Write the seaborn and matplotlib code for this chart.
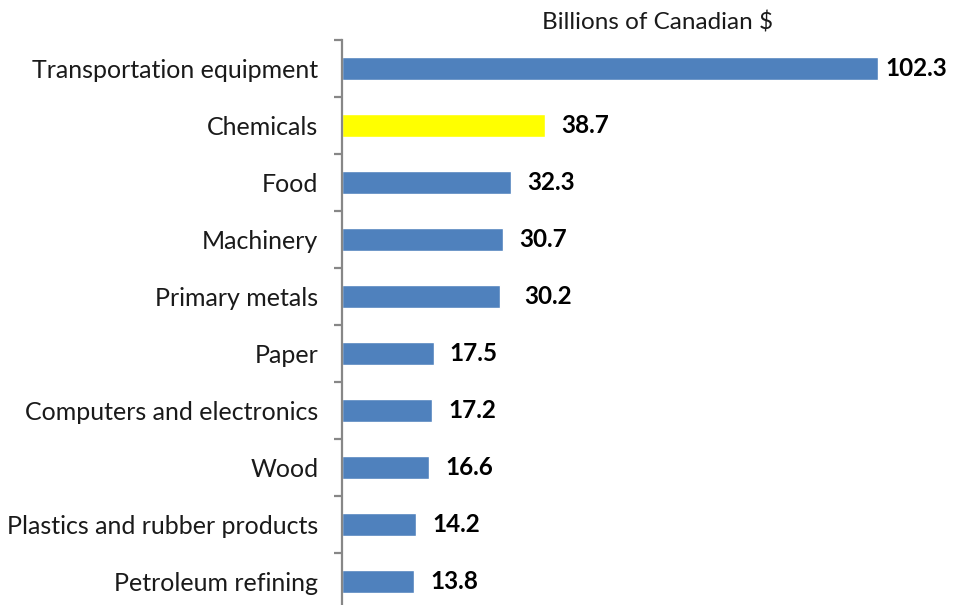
import matplotlib
matplotlib.use("Agg")
import matplotlib.pyplot as plt
import seaborn as sns
import pandas as pd
import numpy as np

categories = [
    "Transportation equipment",
    "Chemicals",
    "Food",
    "Machinery",
    "Primary metals",
    "Paper",
    "Computers and electronics",
    "Wood",
    "Plastics and rubber products",
    "Petroleum refining",
]
values = [102.3, 38.7, 32.3, 30.7, 30.2, 17.5, 17.2, 16.6, 14.2, 13.8]
highlight = "Chemicals"
unit_label = "Billions of Canadian $"

sns.set_style("white")
plt.rcParams["font.family"] = ["Lato", "DejaVu Sans"]

df = pd.DataFrame({"category": categories, "value": values})
colors = {c: ("#FFFF00" if c == highlight else "#4F81BD") for c in categories}

fig = plt.figure(figsize=(9.58, 6.05), dpi=100)
ax = fig.add_axes([342 / 958, -5 / 605, 613 / 958, 1 - 40 / 605 + 5 / 605])

sns.barplot(data=df, y="category", x="value", hue="category", palette=colors,
            order=categories, orient="h", width=0.4, legend=False, ax=ax,
            saturation=1)

ax.set_xlim(0, 117)
ax.set_ylim(len(categories) - 0.5, -0.5)
ax.set_xlabel("")
ax.set_ylabel("")
ax.set_xticks([])

for s in ["top", "right", "bottom"]:
    ax.spines[s].set_visible(False)
ax.spines["left"].set_color("#878787")
ax.spines["left"].set_linewidth(1.6)

ax.tick_params(axis="y", which="major", left=False, length=0, pad=17,
               labelsize=18, labelcolor="#1a1a1a")
ax.set_yticks(np.arange(-0.5, len(categories), 1.0), minor=True)
ax.tick_params(axis="y", which="minor", left=True, length=6, width=1.6,
               color="#878787", direction="out")

# value labels sit a fixed gap (in points) right of each bar end;
# the longest bar's label is pulled in so it stays inside the figure
for i, v in enumerate(values):
    gap = 5 if v == max(values) else (17 if v == 30.2 else 11.5)
    ax.annotate(f"{v:.1f}", xy=(v, i), xytext=(gap, 0),
                textcoords="offset points", va="center", ha="left",
                fontsize=17.5, fontweight="bold", color="black")

fig.text(657 / 958, 1 - 22 / 605, unit_label, ha="center", va="center",
         fontsize=17.5, color="#1a1a1a")

fig.savefig("out.png", dpi=100)
